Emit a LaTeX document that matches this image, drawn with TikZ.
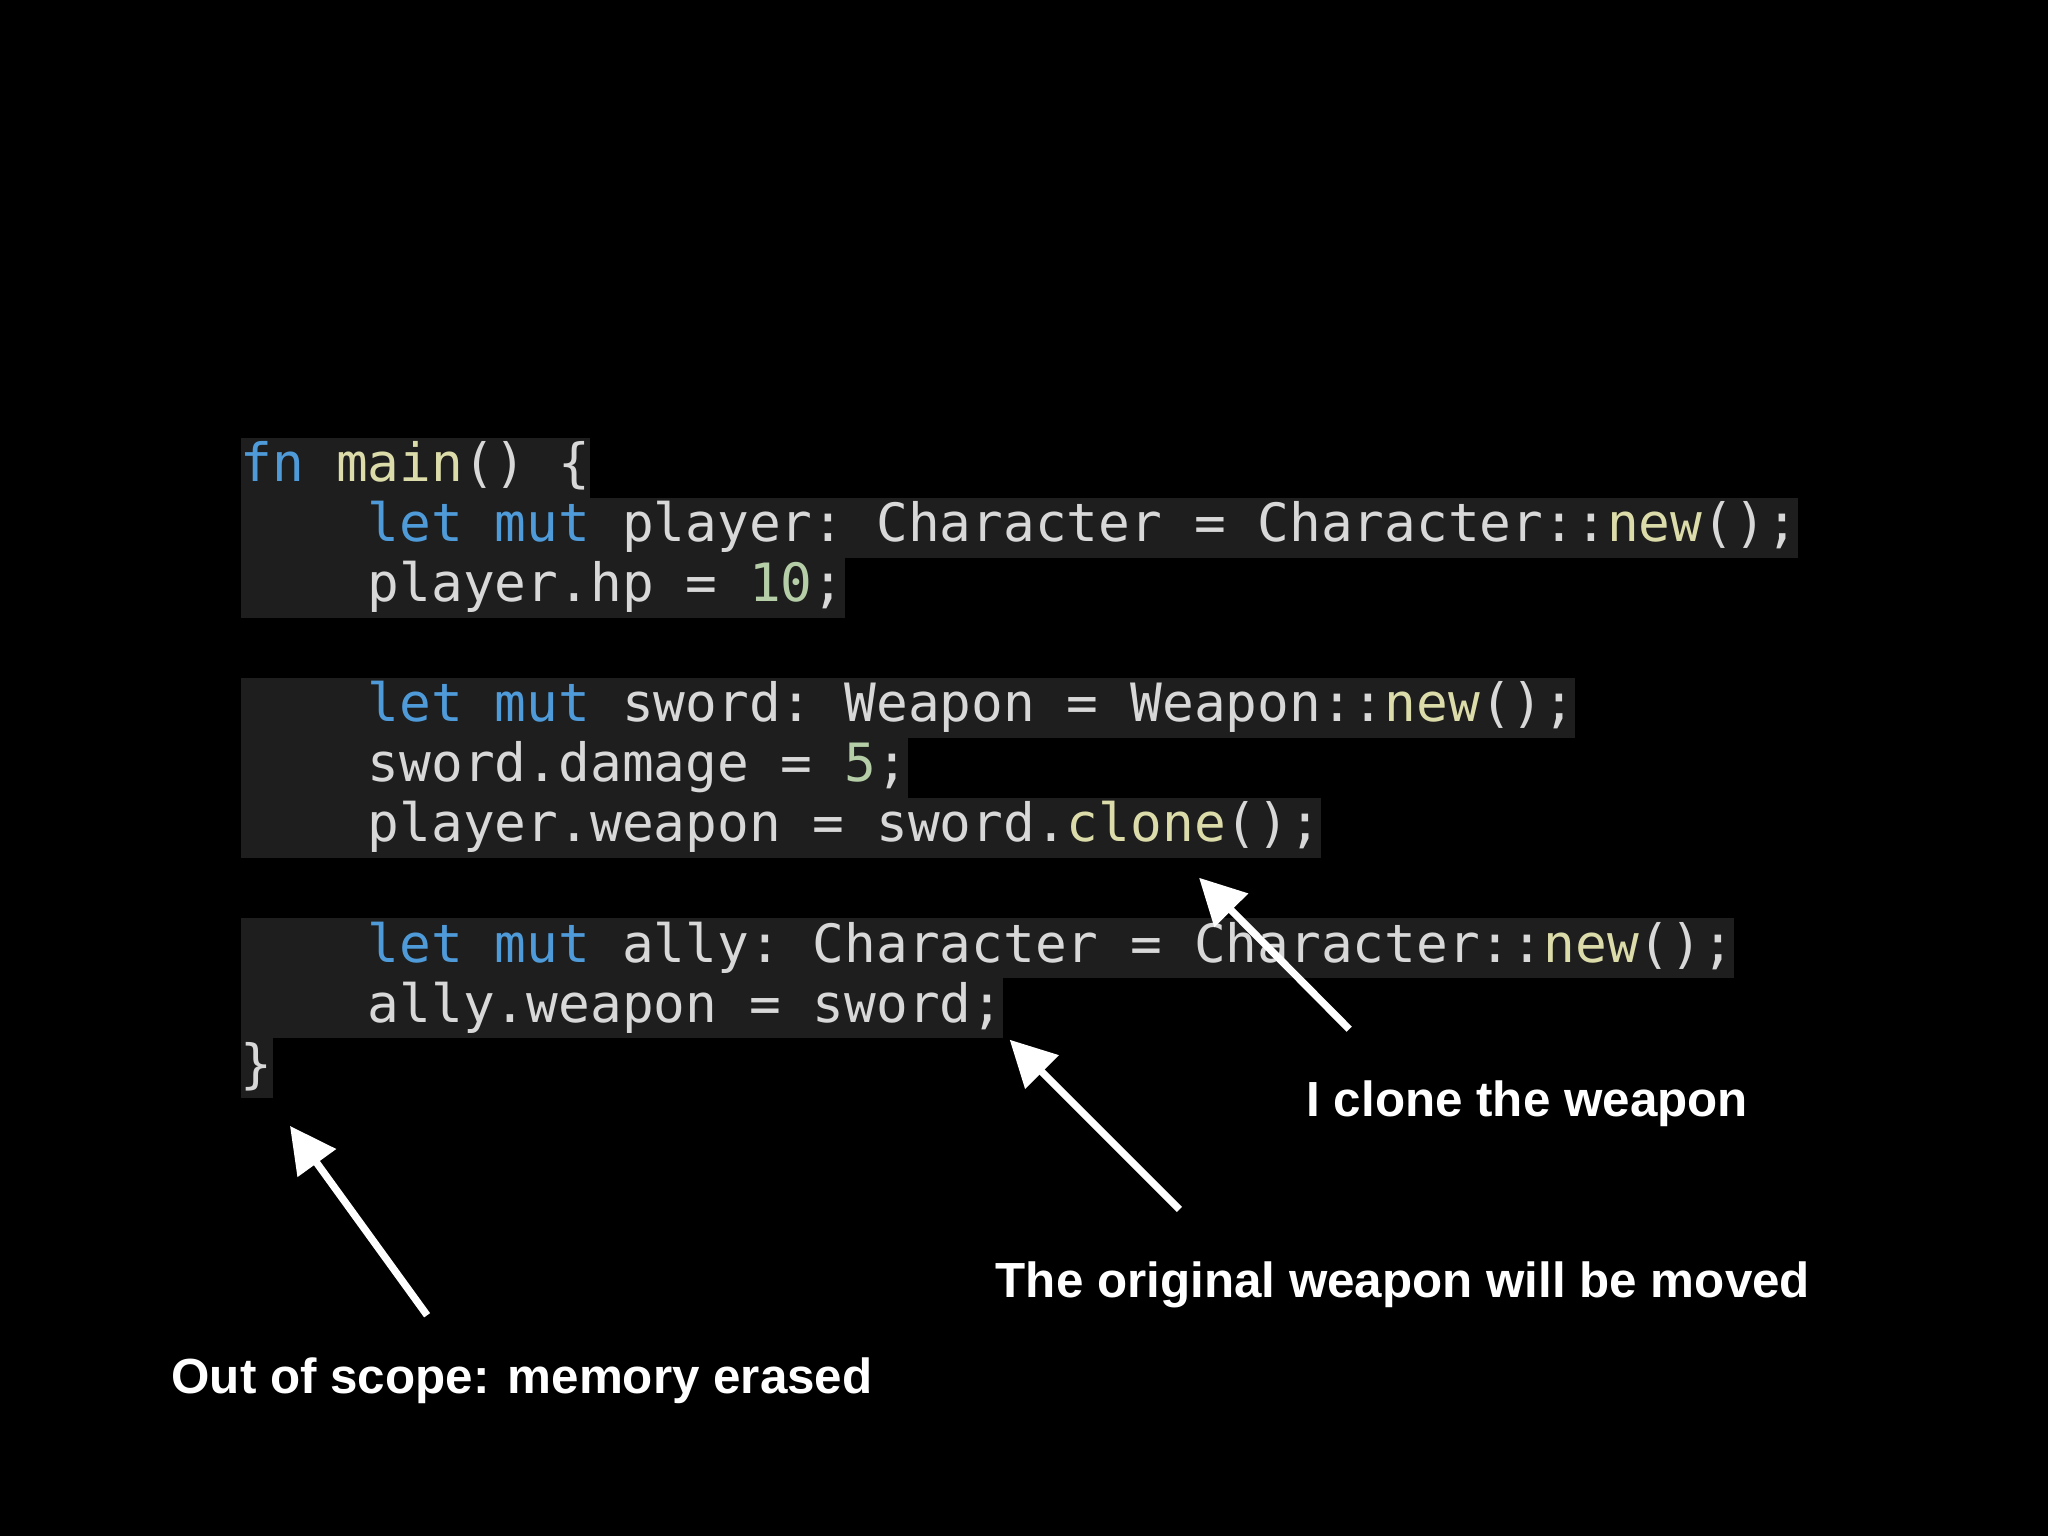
\documentclass[tikz,border=0pt]{standalone}
\usepackage{fontspec}
\setmainfont{Liberation Sans}
\setmonofont{DejaVu Sans Mono}
\usetikzlibrary{arrows.meta}
\definecolor{kw}{HTML}{4F9BD9}
\definecolor{fnc}{HTML}{DCDCAA}
\definecolor{num}{HTML}{B5CEA8}
\definecolor{txt}{HTML}{D8D8D8}
\definecolor{hl}{HTML}{1E1E1E}
\newcommand{\K}[1]{\textcolor{kw}{#1}}
\newcommand{\F}[1]{\textcolor{fnc}{#1}}
\newcommand{\N}[1]{\textcolor{num}{#1}}
\newcommand{\IND}{\phantom{xxxx}}
\tikzset{
 codeline/.style={anchor=west,fill=hl,inner sep=0pt,minimum height=26.2pt,text height=17pt,text depth=5pt,text=txt,font=\fontsize{23}{26}\selectfont\ttfamily},
 label/.style={text=white,font=\fontsize{21.5}{24}\selectfont\bfseries,inner sep=0pt},
 arr/.style={draw=white,line width=3.2pt,-{Triangle[length=20pt,width=20pt]}}
}
\begin{document}
\begin{tikzpicture}[x=0.02cm,y=-0.02cm]
\fill[black] (0,0) rectangle (1568,1176);
\useasboundingbox (0,0) rectangle (1568,1176);
\node[codeline] (l1) at (184,358) {\K{fn} \F{main}() \{};
\node[codeline] (l2) at (184,404) {\IND\K{let} \K{mut} player: Character = Character::\F{new}();};
\node[codeline] (l3) at (184,450) {\IND player.hp = \N{10};};
\node[codeline] (l5) at (184,542) {\IND\K{let} \K{mut} sword: Weapon = Weapon::\F{new}();};
\node[codeline] (l6) at (184,588) {\IND sword.damage = \N{5};};
\node[codeline] (l7) at (184,634) {\IND player.weapon = sword.\F{clone}();};
\node[codeline] (l9) at (184,726) {\IND\K{let} \K{mut} ally: Character = Character::\F{new}();};
\node[codeline] (l10) at (184,772) {\IND ally.weapon = sword;};
\node[codeline] (l11) at (184,818) {\}};
\node[label,anchor=west] (t1) at (1000,845) {I clone the weapon};
\node[label,anchor=west] (t2) at (762,984) {The original weapon will be moved};
\node[label,anchor=west] (t3) at (131,1057) {Out of scope: memory erased};
\coordinate (a1s) at (1033,788); \coordinate (a1e) at (918,672);
\coordinate (a2s) at (903,926); \coordinate (a2e) at (773,796);
\coordinate (a3s) at (327,1007); \coordinate (a3e) at (222,862);
\draw[arr] (a1s) -- (a1e);
\draw[arr] (a2s) -- (a2e);
\draw[arr] (a3s) -- (a3e);
\end{tikzpicture}
\end{document}
